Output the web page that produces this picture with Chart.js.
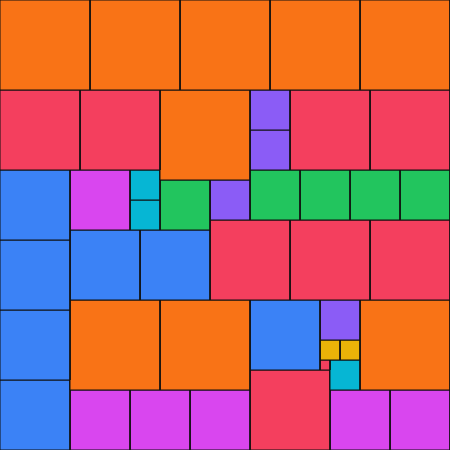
<!DOCTYPE html>
<html>
<head>
<meta charset="utf-8">
<script src="https://cdn.jsdelivr.net/npm/chart.js@4"></script>
<style>
    html, body { margin: 0; padding: 0; background: #fff; }
    #wrap { width: 450px; height: 450px; }
</style>
</head>
<body>
<div id="wrap"><canvas id="squaresChart" width="450" height="450"></canvas></div>
<script>
// square packing, units of 10px (board is 45 x 45)
const squareX    = [0, 9, 18, 27, 36,  0, 8, 16, 25, 25, 29, 37,  0, 7, 13, 13, 16, 21, 25, 30, 35, 40,  0, 7, 14, 21, 29, 37,  0, 7, 16, 25, 32, 32, 34, 32, 33, 36,  0, 7, 13, 19, 25, 33, 39];
const squareY    = [0, 0, 0, 0, 0,  9, 9, 9, 9, 13, 9, 9,  17, 17, 17, 20, 18, 18, 17, 17, 17, 17,  24, 23, 23, 22, 22, 22,  31, 30, 30, 30, 30, 34, 34, 36, 36, 30,  38, 39, 39, 39, 37, 39, 39];
const squareSize = [9, 9, 9, 9, 9,  8, 8, 9, 4, 4, 8, 8,  7, 6, 3, 3, 5, 4, 5, 5, 5, 5,  7, 7, 7, 8, 8, 8,  7, 9, 9, 7, 4, 2, 2, 1, 3, 9,  7, 6, 6, 6, 8, 6, 6];
const boardSize = 45;

const sizeColors = {
    1: '#f43f5e',
    2: '#eab308',
    3: '#06b6d4',
    4: '#8b5cf6',
    5: '#22c55e',
    6: '#d946ef',
    7: '#3b82f6',
    8: '#f43f5e',
    9: '#f97316'
};

const datasets = squareX.map((x, i) => {
    const y = squareY[i];
    const s = squareSize[i];
    return {
        label: 'Square ' + (i + 1) + ' (' + s + ')',
        data: [
            { x: x, y: y },
            { x: x + s, y: y },
            { x: x + s, y: y + s },
            { x: x, y: y + s },
            { x: x, y: y }
        ],
        showLine: true,
        fill: 'shape',
        backgroundColor: sizeColors[s],
        borderColor: '#111111',
        borderWidth: 1,
        pointRadius: 0,
        tension: 0
    };
});

const ctx = document.getElementById('squaresChart').getContext('2d');
new Chart(ctx, {
    type: 'scatter',
    data: { datasets: datasets },
    options: {
        responsive: false,
        animation: false,
        layout: { padding: 0 },
        plugins: {
            legend: { display: false },
            tooltip: { enabled: false }
        },
        scales: {
            x: { type: 'linear', min: 0, max: boardSize, display: false },
            y: { type: 'linear', min: 0, max: boardSize, reverse: true, display: false }
        }
    }
});
</script>
</body>
</html>
